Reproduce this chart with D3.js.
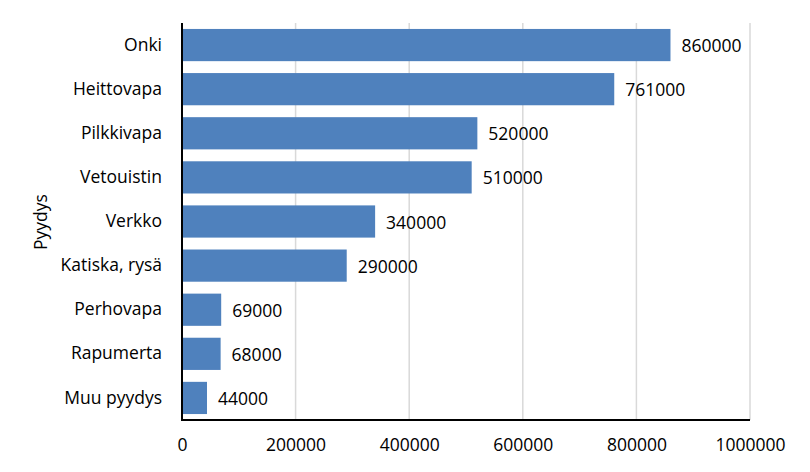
<!DOCTYPE html>
<html>
<head>
<meta charset="utf-8">
<script src="https://cdn.jsdelivr.net/npm/d3@7"></script>
<style>
  body { margin: 0; background: #fff; }
  svg { display: block; }
  text { font-family: "Open Sans", sans-serif; fill: #000; }
</style>
</head>
<body>
<svg id="chart" width="810" height="472"></svg>
<script>
const categories = ["Onki", "Heittovapa", "Pilkkivapa", "Vetouistin", "Verkko", "Katiska, rysä", "Perhovapa", "Rapumerta", "Muu pyydys"];
const values = [860000, 761000, 520000, 510000, 340000, 290000, 69000, 68000, 44000];
const xTicks = [0, 200000, 400000, 600000, 800000, 1000000];
const yTitle = "Pyydys";

(function () {
const svg = d3.select("#chart");
const mLeft = 182, mRight = 750, mTop = 23, mBottom = 420;
const fs = 17.5;

const x = d3.scaleLinear().domain([0, 1000000]).range([mLeft, mRight]);
const y = d3.scaleBand().domain(categories).range([mTop, mBottom]).paddingInner(0.27).paddingOuter(0.135);

// gridlines
svg.append("g").selectAll("line").data(xTicks.slice(1)).join("line")
  .attr("x1", d => x(d)).attr("x2", d => x(d))
  .attr("y1", mTop).attr("y2", mBottom)
  .attr("stroke", "#d9d9d9").attr("stroke-width", 1.5);

// bars
svg.append("g").selectAll("rect").data(values).join("rect")
  .attr("x", x(0))
  .attr("y", (d, i) => y(categories[i]))
  .attr("width", d => x(d) - x(0))
  .attr("height", y.bandwidth())
  .attr("fill", "#4f81bd");

// data labels
svg.append("g").selectAll("text").data(values).join("text")
  .attr("x", d => x(d) + 11)
  .attr("y", (d, i) => y(categories[i]) + y.bandwidth() / 2 + 7)
  .attr("font-size", fs)
  .text(d => d);

// x axis
const xAxis = d3.axisBottom(x).tickValues(xTicks).tickSize(0).tickPadding(19).tickFormat(d => d);
const gx = svg.append("g").attr("transform", `translate(0,${mBottom})`).call(xAxis);
gx.select(".domain").remove();
gx.selectAll("text").attr("font-size", fs).attr("font-family", "Open Sans, sans-serif").attr("fill", "#000");

// y axis
const yAxis = d3.axisLeft(y).tickSize(0).tickPadding(20);
const gy = svg.append("g").attr("transform", `translate(${mLeft},0)`).call(yAxis);
gy.select(".domain").remove();
gy.selectAll("text").attr("font-size", fs).attr("font-family", "Open Sans, sans-serif").attr("fill", "#000");

// axis lines
svg.append("line").attr("x1", mLeft).attr("x2", mLeft).attr("y1", mTop).attr("y2", mBottom + 1)
  .attr("stroke", "#000").attr("stroke-width", 2);
svg.append("line").attr("x1", mLeft - 1).attr("x2", mRight).attr("y1", mBottom).attr("y2", mBottom)
  .attr("stroke", "#000").attr("stroke-width", 2);

// y title
svg.append("text")
  .attr("transform", `translate(47,222) rotate(-90)`)
  .attr("text-anchor", "middle")
  .attr("font-size", fs)
  .text(yTitle);
})();
</script>
</body>
</html>
